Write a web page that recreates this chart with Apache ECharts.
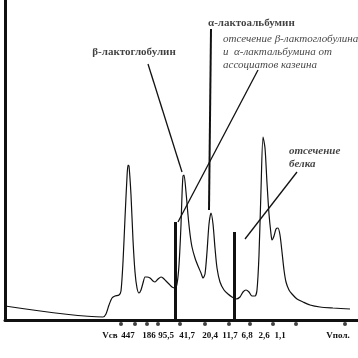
<!DOCTYPE html>
<html>
<head>
<meta charset="utf-8">
<script src="https://cdn.jsdelivr.net/npm/echarts@6/dist/echarts.min.js"></script>
<style>
html,body{margin:0;padding:0;background:#fff;}
#c{width:358px;height:358px;}
</style>
</head>
<body>
<div id="c"></div>
<script>
// Elution profile (arbitrary elution volume units, arbitrary absorbance units)
var elutionVolume = [0,98,101,104,107,110,114,116,118,120,122,123,124,126,128,130,132,134,136,138,140,142,145,148,150,153,156,158,161,164,167,170,172,174,176,177,178,179,181,183,185,187,190,193,196,198,200,202,204,206,208,210,212,215,219,223,227,231,235,238,241,244,247,250,252,254,256,258,260,262,264,266,267,269,271,273,275,277,279,281,284,287,292,298,305,315,328,345];
var absorbance =    [14,3,6,15,22,24,25,29,58,102,143,155,154,125,80,48,32,27,30,37,43,43,42,39,38,41,43,42,39,36,33,32,36,55,95,125,144,145,128,105,86,73,62,54,47,42,46,68,96,107,96,72,52,38,30,26,23,21,23,28,30,28,24,24,30,65,130,183,172,137,106,86,80,84,91,92,85,68,50,38,30,26,21,18,15,13,12,11];

// Molecular mass markers (kDa) on the elution volume axis
var markerLabels = ["Vсв","447","186","95,5","41,7","20,4","11,7","6,8","2,6","1,1","Vпол."];
var markerLabelVolumes = [105,123,144,161,182,205,225,242,259,275,333];
var markerDotVolumes = [116,130,142,153,175,200,224,245,268,291,340];

// Fraction cut-offs (elution volume)
var cutVolumes = [170, 229];
var cutHeights = [98, 88];

// Annotation texts
var annTexts = ["β-лактоглобулин","α-лактоальбумин","отсечение β-лактоглобулина","и  α-лактальбумина от","ассоциатов казеина","отсечение","белка"];
var annX = [129,203,218,218,218,284,284];
var annY = [268,297,281,268,255,169,156];

// Pointer lines [x1,y1,x2,y2]
var pointerLines = [[206,291,204,110],[143,256,177,148],[253,250,173,98],[292,148,240,81]];

var curve = elutionVolume.map(function(v,i){return [v, absorbance[i]];});
var dots = markerDotVolumes.map(function(v){return [v,-4];});

var markData = [];
cutVolumes.forEach(function(v,i){
  markData.push([{coord:[v,cutHeights[i]], lineStyle:{width:3}},{coord:[v,0]}]);
});
pointerLines.forEach(function(p,i){
  markData.push([{coord:[p[0],p[1]], lineStyle:{width: i===0?2:1.3}},{coord:[p[2],p[3]]}]);
});

var annData = annTexts.map(function(t,i){
  var bold = i<2;
  var italic = i>=2;
  return {value:[annX[i],annY[i]], name:t,
    label:{show:true, formatter:t, position: i===0?'inside':'right', distance:0,
      fontFamily:'Liberation Serif', fontSize:11, fontWeight: (bold||i>=5)?'bold':'normal',
      fontStyle: italic?'italic':'normal', color:'#111'}};
});

var chart = echarts.init(document.getElementById('c'), null, {renderer:'canvas'});
chart.setOption({
  animation:false,
  backgroundColor:'#fff',
  grid:{left:5,right:0,top:0,bottom:38},
  xAxis:{type:'value',min:0,max:353,
    axisLine:{show:true,onZero:false,lineStyle:{color:'#111',width:3}},
    axisTick:{show:false},
    splitLine:{show:false},
    axisLabel:{show:true,customValues:markerLabelVolumes,margin:11,hideOverlap:false,
      fontFamily:'Liberation Serif',fontWeight:'bold',fontSize:9,color:'#111',
      formatter:function(v){var k=markerLabelVolumes.indexOf(v);return k>=0?markerLabels[k]:'';}}
  },
  yAxis:{type:'value',min:0,max:320,
    axisLine:{show:true,lineStyle:{color:'#111',width:3}},
    axisTick:{show:false},axisLabel:{show:false},splitLine:{show:false}},
  series:[
    {type:'line',data:curve,showSymbol:false,symbol:'none',smooth:0.25,
     lineStyle:{color:'#111',width:1.2},
     markLine:{silent:true,symbol:['none','none'],label:{show:false},
       lineStyle:{color:'#111',type:'solid'},data:markData}},
    {type:'scatter',data:dots,clip:false,symbol:'circle',symbolSize:4,itemStyle:{color:'#111'},silent:true},
    {type:'scatter',data:annData,symbolSize:0,clip:false,silent:true}
  ]
});
</script>
</body>
</html>
